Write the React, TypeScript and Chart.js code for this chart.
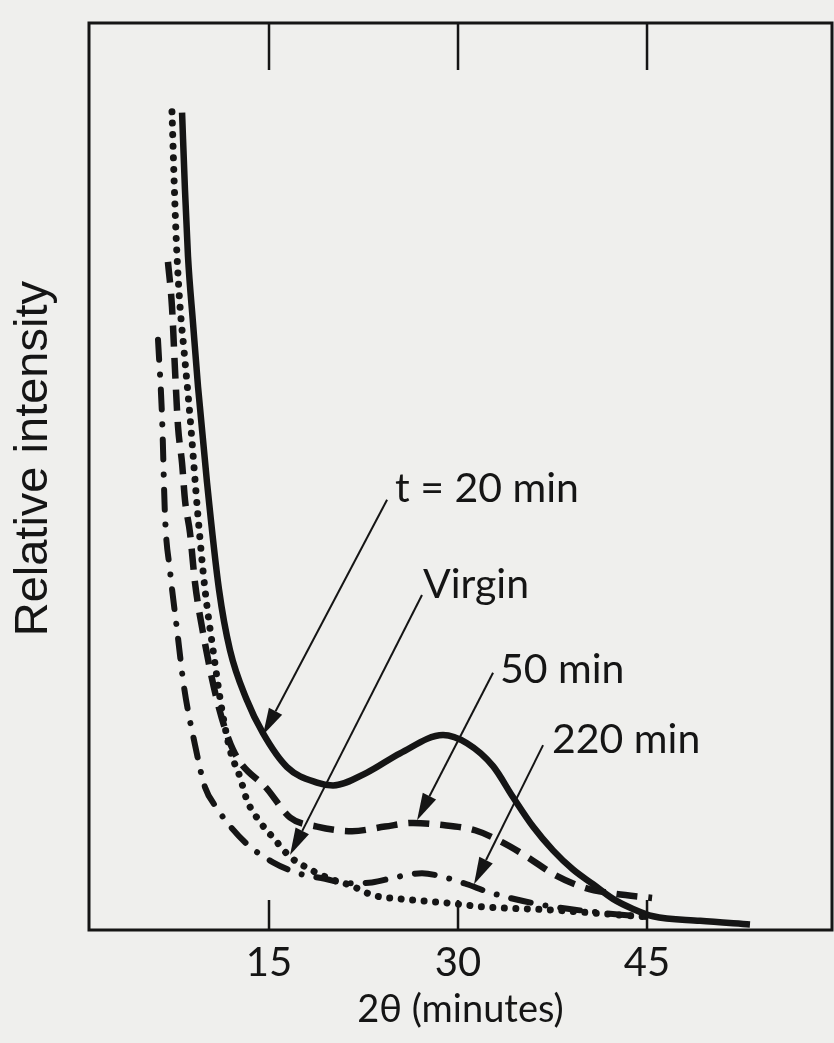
import React, { useEffect, useRef } from "react";
import Chart from "chart.js/auto";

// ---- data (2θ in minutes, relative intensity in arbitrary units) ----
const t20X = [8.10, 8.33, 8.57, 8.97, 9.37, 10.08, 11.03, 11.90, 13.25, 14.52, 16.43, 18.81, 20.08, 22.78, 25.40, 28.81, 30.71, 32.78, 34.37, 35.95, 37.54, 39.13, 40.71, 42.30, 43.89, 45.48, 49.21, 53.17];
const t20Y = [89.3, 80.9, 73.6, 66.3, 59.3, 48.9, 37.2, 30.6, 25.1, 21.5, 17.8, 16.1, 15.8, 17.2, 19.3, 21.3, 20.4, 17.9, 14.5, 11.3, 8.7, 6.6, 5.0, 3.4, 2.3, 1.5, 1.0, 0.6];

const virginX = [7.30, 7.54, 7.70, 7.94, 8.25, 8.73, 9.37, 9.92, 10.56, 11.27, 11.90, 12.70, 13.25, 14.29, 15.32, 16.67, 18.02, 19.84, 21.43, 23.25, 25.40, 28.81, 32.30, 37.30, 41.27, 45.24];
const virginY = [89.4, 79.0, 73.6, 68.1, 63.4, 56.1, 45.1, 37.2, 30.6, 24.0, 19.7, 16.7, 14.2, 11.8, 10.1, 8.0, 6.8, 5.6, 4.9, 3.8, 3.4, 3.0, 2.5, 2.2, 1.8, 1.4];

const m50X = [6.98, 7.30, 7.54, 7.78, 8.10, 8.33, 8.73, 9.13, 9.76, 10.87, 12.14, 14.92, 16.67, 18.81, 21.59, 24.21, 26.43, 28.57, 31.35, 33.49, 35.48, 37.70, 40.08, 42.22, 45.40];
const m50Y = [73.0, 68.1, 61.2, 55.0, 51.0, 47.0, 43.4, 37.9, 32.5, 25.1, 19.7, 15.3, 12.3, 11.3, 10.8, 11.3, 11.7, 11.5, 10.9, 9.6, 8.0, 6.0, 4.6, 4.0, 3.5];

const m220X = [6.19, 6.51, 6.75, 7.14, 7.70, 8.25, 9.13, 9.92, 10.87, 12.06, 13.49, 15.32, 17.30, 19.44, 21.19, 23.17, 25.16, 27.14, 28.81, 30.71, 32.30, 34.13, 37.30, 41.27, 45.08];
const m220Y = [64.5, 56.1, 45.1, 39.3, 32.8, 26.6, 20.2, 15.6, 13.3, 11.1, 9.1, 7.4, 6.2, 5.6, 5.1, 5.2, 5.8, 6.2, 5.8, 5.0, 4.2, 3.5, 2.6, 1.9, 1.4];

const xTicks = [15, 30, 45];

// annotations (data coordinates)
const annText = ["t = 20 min", "Virgin", "50 min", "220 min"];
const annTextX = [25.0, 27.22, 33.33, 37.46];
const annTextY = [46.8, 36.3, 27.0, 19.3];
const arrowFromX = [24.37, 27.14, 32.78, 36.75];
const arrowFromY = [47.0, 36.6, 28.1, 20.2];
const arrowToX = [14.52, 16.67, 26.75, 31.27];
const arrowToY = [21.3, 8.2, 12.0, 5.0];

const yTitle = "Relative intensity";
const yTitleAt = 51.5; // centre of the rotated title, in y-data units

const INK = "#151515";
const BG = "#efefed";
const LABEL_FONT = "Lato, 'DejaVu Sans', sans-serif";

const pts = (xs: number[], ys: number[]) => xs.map((x, i) => ({ x, y: ys[i] }));

const overlay = {
  id: "overlay",
  beforeDraw(chart: any) {
    const { ctx, width, height } = chart;
    ctx.save();
    ctx.fillStyle = BG;
    ctx.fillRect(0, 0, width, height);
    ctx.restore();
  },
  afterDraw(chart: any) {
    const { ctx, chartArea: a, scales } = chart;
    const xs = scales.x;
    const ys = scales.y;
    ctx.save();
    ctx.strokeStyle = INK;
    ctx.fillStyle = INK;
    // frame
    ctx.lineWidth = 3;
    ctx.strokeRect(a.left, a.top, a.right - a.left, a.bottom - a.top);
    // inward ticks
    ctx.lineWidth = 2.5;
    xTicks.forEach((v) => {
      const px = xs.getPixelForValue(v);
      ctx.beginPath();
      ctx.moveTo(px, a.bottom);
      ctx.lineTo(px, a.bottom - 30);
      ctx.moveTo(px, a.top);
      ctx.lineTo(px, a.top + 47);
      ctx.stroke();
    });
    // arrows
    ctx.lineWidth = 2;
    for (let i = 0; i < arrowFromX.length; i++) {
      const x0 = xs.getPixelForValue(arrowFromX[i]);
      const y0 = ys.getPixelForValue(arrowFromY[i]);
      const x1 = xs.getPixelForValue(arrowToX[i]);
      const y1 = ys.getPixelForValue(arrowToY[i]);
      const dx = x1 - x0, dy = y1 - y0;
      const len = Math.hypot(dx, dy);
      const ux = dx / len, uy = dy / len;
      const L = 27, W = 7.5;
      const bx = x1 - ux * L, by = y1 - uy * L;
      ctx.beginPath();
      ctx.moveTo(x0, y0);
      ctx.lineTo(bx, by);
      ctx.stroke();
      ctx.beginPath();
      ctx.moveTo(x1, y1);
      ctx.lineTo(bx - uy * W, by + ux * W);
      ctx.lineTo(bx + uy * W, by - ux * W);
      ctx.closePath();
      ctx.fill();
    }
    // labels
    ctx.font = `41px ${LABEL_FONT}`;
    ctx.textAlign = "left";
    ctx.textBaseline = "alphabetic";
    for (let i = 0; i < annText.length; i++) {
      ctx.fillText(annText[i], xs.getPixelForValue(annTextX[i]), ys.getPixelForValue(annTextY[i]));
    }
    // y-axis title
    ctx.translate(34, ys.getPixelForValue(yTitleAt));
    ctx.rotate(-Math.PI / 2);
    ctx.font = "47px 'Liberation Sans', Arial, sans-serif";
    ctx.textAlign = "center";
    ctx.textBaseline = "middle";
    ctx.fillText(yTitle, 0, 0);
    ctx.restore();
  },
};

export default function App() {
  const ref = useRef<HTMLCanvasElement>(null);
  useEffect(() => {
    if (!ref.current) return;
    const chart = new Chart(ref.current, {
      type: "line",
      data: {
        datasets: [
          {
            label: "t = 20 min",
            data: pts(t20X, t20Y),
            borderColor: INK,
            borderWidth: 6.5,
            pointRadius: 0,
            cubicInterpolationMode: "monotone",
            fill: false,
          },
          {
            label: "50 min",
            data: pts(m50X, m50Y),
            borderColor: INK,
            borderWidth: 6.5,
            borderDash: [21, 11],
            borderCapStyle: "butt",
            pointRadius: 0,
            cubicInterpolationMode: "monotone",
            fill: false,
          },
          {
            label: "Virgin",
            data: pts(virginX, virginY),
            borderColor: INK,
            borderWidth: 7,
            borderDash: [0.01, 11.5],
            borderCapStyle: "round",
            pointRadius: 0,
            cubicInterpolationMode: "monotone",
            fill: false,
          },
          {
            label: "220 min",
            data: pts(m220X, m220Y),
            borderColor: INK,
            borderWidth: 6,
            borderDash: [20, 15, 0.01, 15],
            borderCapStyle: "round",
            pointRadius: 0,
            cubicInterpolationMode: "monotone",
            fill: false,
          },
        ],
      },
      options: {
        responsive: false,
        animation: false,
        events: [],
        layout: { padding: { top: 23, right: 2, bottom: 0, left: 0 } },
        plugins: { legend: { display: false }, tooltip: { enabled: false } },
        scales: {
          x: {
            type: "linear",
            min: 0.714,
            max: 59.68,
            afterBuildTicks: (scale: any) => {
              scale.ticks = xTicks.map((v) => ({ value: v }));
            },
            afterFit: (scale: any) => {
              scale.height = 113;
            },
            grid: { display: false, drawTicks: false },
            border: { display: false },
            ticks: {
              color: INK,
              font: { size: 40, family: LABEL_FONT, lineHeight: 1 },
              padding: 13,
              maxRotation: 0,
              autoSkip: false,
            },
            title: {
              display: true,
              text: "2θ (minutes)",
              color: INK,
              font: { size: 38, family: LABEL_FONT, lineHeight: 1 },
              padding: { top: 8, bottom: 14 },
            },
          },
          y: {
            type: "linear",
            min: 0,
            max: 99.1,
            afterFit: (scale: any) => {
              scale.width = 89;
            },
            grid: { display: false, drawTicks: false },
            border: { display: false },
            ticks: { display: false },
            title: { display: false },
          },
        },
      },
      plugins: [overlay],
    } as any);
    return () => chart.destroy();
  }, []);
  return (
    <div style={{ position: "fixed", left: 0, top: 0, width: 834, height: 1043 }}>
      <canvas ref={ref} width={834} height={1043} style={{ display: "block", width: 834, height: 1043 }} />
    </div>
  );
}
